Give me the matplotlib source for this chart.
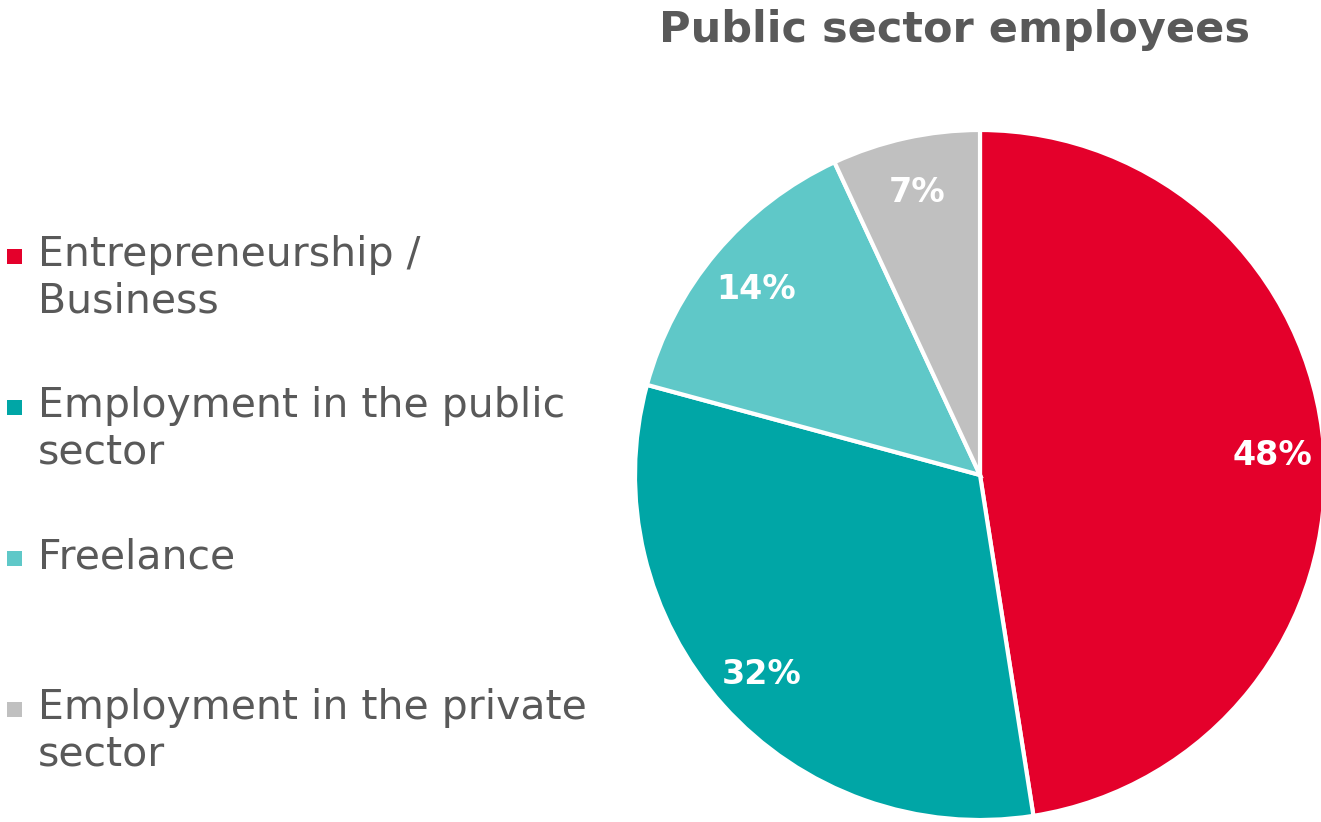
import matplotlib.pyplot as plt
from matplotlib.patches import Rectangle

# data
categories = ["Entrepreneurship /\nBusiness", "Employment in the public\nsector",
              "Freelance", "Employment in the private\nsector"]
values = [48, 32, 14, 7]
colors = ["#E4002B", "#00A6A6", "#5FC8C8", "#C0C0C0"]
title = "Public sector employees"

textColor = "#595959"

fig = plt.figure(figsize=(13.21, 8.22), dpi=100)

# pie axes: centre ~ (980, 475) px, radius ~ 345 px
W, H = 1321., 822.
cx, cy, r = 980., 475., 345.
ax = fig.add_axes([(cx - r)/W, (H - cy - r)/H, 2*r/W, 2*r/H])
wedges, texts = ax.pie(values, colors=colors, startangle=90, counterclock=False,
                       labels=[f"{v}%" for v in values], labeldistance=0.85,
                       wedgeprops=dict(edgecolor="white", linewidth=3),
                       textprops=dict(color="white", fontsize=24, fontweight="bold",
                                      ha="center", va="center_baseline"))
for w in wedges:
    w.set_clip_on(False)
ax.set_xlim(-1, 1)
ax.set_ylim(-1, 1)
ax.set_aspect("equal")
ax.axis("off")

fig.text(955/W, 1 - 30/H, title, ha="center", va="center",
         fontsize=31, fontweight="bold", color=textColor)

# legend drawn by hand, one slot of ~151 px per entry
y0 = 256.
for i, (lab, col) in enumerate(zip(categories, colors)):
    yy = y0 + 151*i
    fig.patches.append(Rectangle((7/W, 1 - (yy + 8)/H), 15/W, 15/H,
                                 transform=fig.transFigure, facecolor=col,
                                 edgecolor="none"))
    fig.text(38/W, 1 - (yy - 21)/H, lab, ha="left", va="top", fontsize=29.5,
             color=textColor, linespacing=1.2)

fig.savefig("out.png", dpi=100)
